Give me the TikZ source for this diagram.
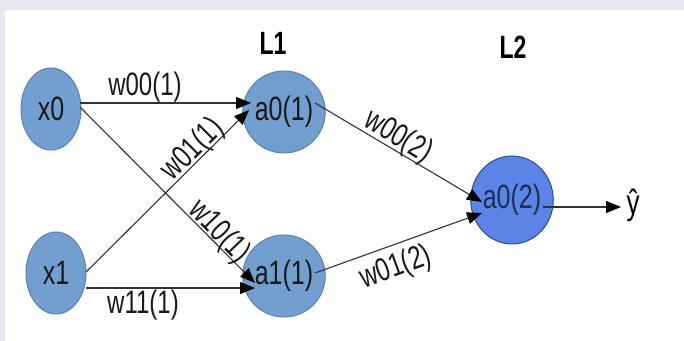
\documentclass[tikz,border=0pt]{standalone}
\usepackage{fontspec}
\setmainfont{Liberation Sans}
\usetikzlibrary{shapes.geometric,arrows.meta,calc}

\definecolor{pagegrey}{HTML}{E6E7EF}
\definecolor{unitfill}{HTML}{729FCF}
\definecolor{unitline}{HTML}{5A80B4}
\definecolor{outfill}{HTML}{5B84E6}
\definecolor{outline}{HTML}{2E4C8C}
\definecolor{wire}{HTML}{333333}

% tall, narrow lettering
\newcommand{\tallt}[1]{\scalebox{1}[1.35]{#1}}

\tikzset{
  unit/.style={ellipse, draw=unitline, fill=unitfill, line width=0.5pt,
    minimum width=30pt, minimum height=41pt, inner sep=0pt,
    font=\fontsize{12.5}{14}\selectfont, text=black!90},
  outunit/.style={unit, draw=outline, fill=outfill, text=outline!60!black,
    minimum height=44pt},
  wirearrow/.style={draw=wire, line width=0.55pt,
    -{Triangle[length=7.5pt,width=6pt,color=black]}},
  weight/.style={font=\fontsize{12}{14}\selectfont, inner sep=0pt, text=black!90},
  layertitle/.style={font=\bfseries\fontsize{11.5}{13}\selectfont, inner sep=0pt}
}

\begin{document}
\begin{tikzpicture}[x=0.5pt, y=-0.5pt]
  \useasboundingbox (0,0) rectangle (684,341);
  % page frame
  \fill[pagegrey] (0,0) rectangle (684,341);
  \fill[white] (5,10) rectangle (684,341);

  % layer titles
  \node[layertitle] (t1) at (273,43) {\scalebox{1}[1.4]{L1}};
  \node[layertitle] (t2) at (513,47) {\scalebox{1}[1.4]{L2}};

  % units
  \node[unit] (x0) at (51,109) {\tallt{x0}};
  \node[unit] (x1) at (56,273) {\tallt{x1}};
  \node[unit] (a01) at (284,112) {\tallt{a0(1)}};
  \node[unit] (a11) at (284,276) {\tallt{a1(1)}};
  \node[outunit] (a02) at (512,200) {\tallt{a0(2)}};
  \node[font=\fontsize{13}{15}\selectfont, inner sep=0pt] (yhat) at (633,205) {\tallt{ŷ}};

  % first layer connections
  \draw[wirearrow] ($(x0)+(29,-6)$) -- ($(a01)+(-33,-9)$);
  \draw[wirearrow] ($(x0)+(29,-2)$) -- ($(a11)+(-29,7)$);
  \draw[wirearrow] ($(x1)+(30,-1)$) -- ($(a01)+(-35,-2)$);
  \draw[wirearrow] ($(x1)+(30,15)$) -- ($(a11)+(-29,12)$);

  % second layer connections
  \draw[wirearrow] ($(a01)+(31,-9)$) -- ($(a02)+(-30,2)$);
  \draw[wirearrow] ($(a11)+(31,-3)$) -- ($(a02)+(-30,13)$);
  \draw[wirearrow] ($(a02)+(31,7)$) -- ($(yhat)+(-12,2)$);

  % weights
  \node[weight] (w001) at (145,87) {\tallt{w00(1)}};
  \node[weight] (w111) at (143,305) {\tallt{w11(1)}};
  \node[weight, rotate=45] (w011) at (193,150) {\tallt{w01(1)}};
  \node[weight, rotate=-46] (w101) at (219,232) {\tallt{w10(1)}};
  \node[weight, rotate=-31] (w002) at (398,137) {\tallt{w00(2)}};
  \node[weight, rotate=20] (w012) at (396,268) {\tallt{w01(2)}};
\end{tikzpicture}
\end{document}
